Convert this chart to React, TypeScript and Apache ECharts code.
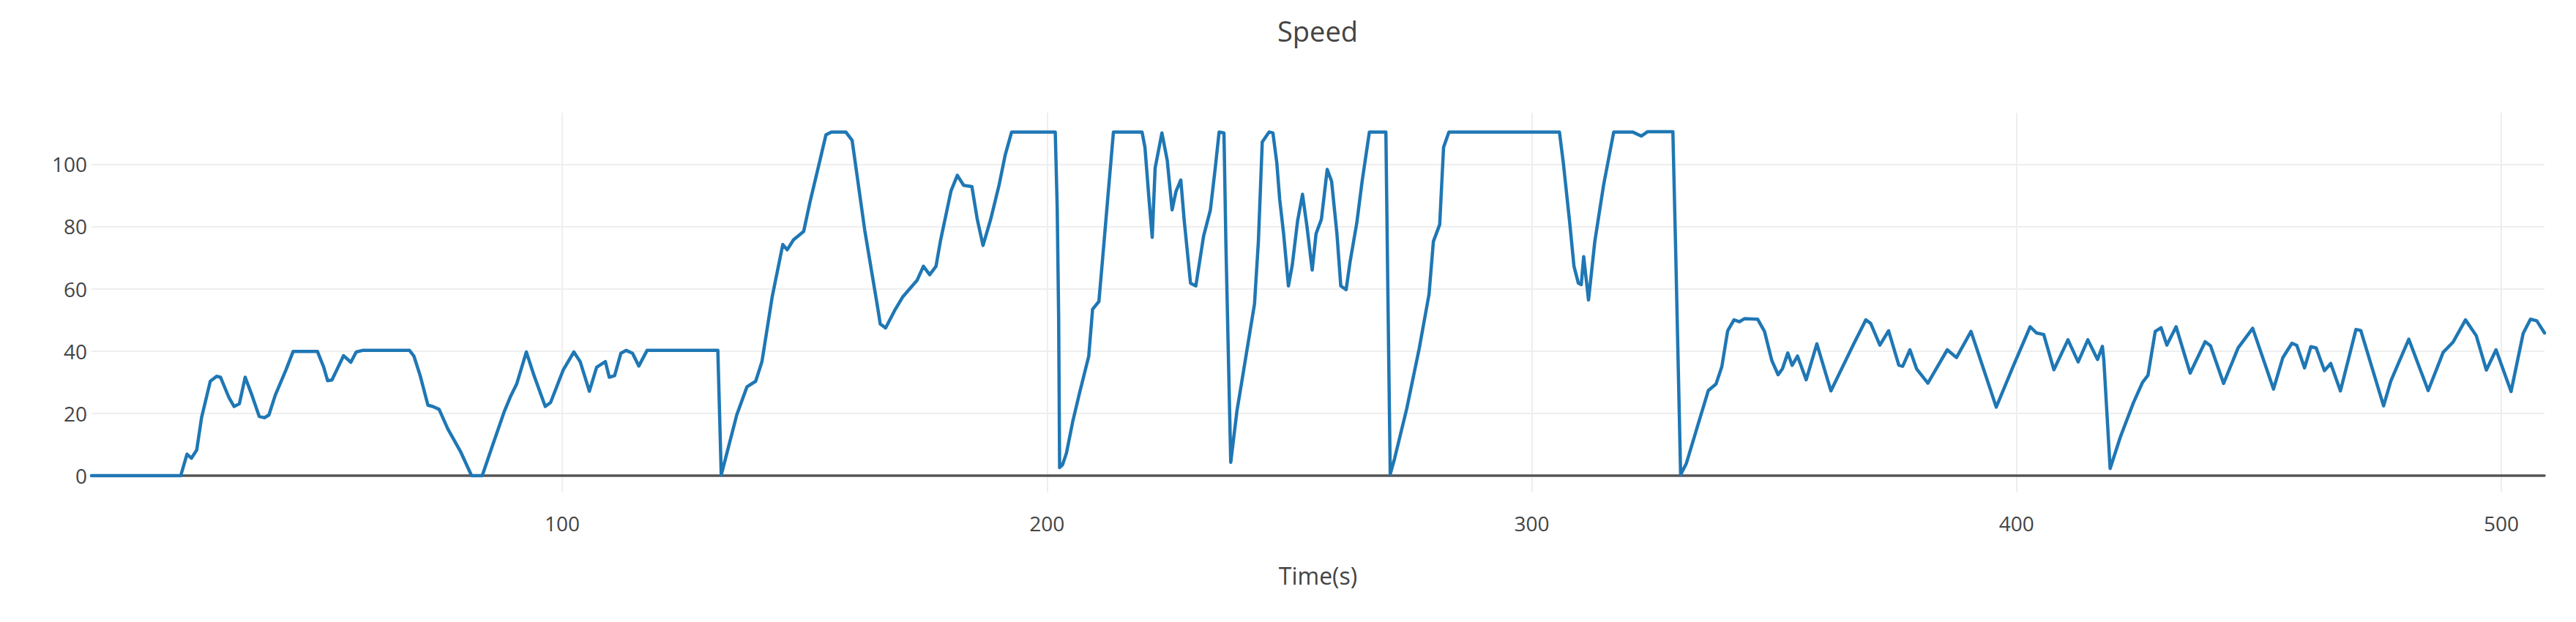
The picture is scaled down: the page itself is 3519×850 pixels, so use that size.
import React, { useEffect, useRef } from "react";
import * as echarts from "echarts";

const chartTitle = "Speed";
const xAxisTitle = "Time(s)";
const xTickValues = [100, 200, 300, 400, 500];
const yTickValues = [0, 20, 40, 60, 80, 100];

const time = [
  2.9, 21.3, 22.6, 23.5, 24.6, 25.6, 27.4, 28.7, 29.5, 31.3, 32.3, 33.4, 34.6, 36.0, 37.5, 38.6, 39.5, 40.8, 43.0, 44.5,
  49.5, 50.8, 51.6, 52.5, 54.9, 56.4, 57.5, 58.8, 68.5, 69.4, 70.7, 72.3, 73.3, 74.6, 76.4, 79.0, 81.3, 83.5, 85.4, 88.0,
  89.3, 90.6, 92.6, 94.1, 96.5, 97.6, 100.2, 102.4, 103.7, 105.6, 107.1, 108.9, 109.7, 110.8, 112.1, 113.2, 114.5, 115.8, 117.5, 132.1,
  132.8, 136.0, 138.1, 139.9, 141.2, 143.3, 145.5, 146.4, 147.7, 149.8, 151.1, 152.9, 154.4, 155.5, 158.5, 159.8, 162.4, 165.0, 165.6, 166.7,
  168.5, 170.2, 173.2, 174.5, 175.8, 177.1, 178.0, 180.2, 181.5, 182.8, 184.5, 185.6, 186.8, 188.4, 190.1, 191.4, 192.7, 201.7, 202.1, 202.4,
  202.6, 203.2, 204.0, 205.3, 206.7, 208.6, 209.4, 210.7, 211.5, 212.6, 213.7, 219.6, 220.2, 221.0, 221.7, 222.3, 223.7, 224.8, 225.8, 226.6,
  227.6, 228.3, 229.6, 230.7, 232.3, 233.7, 234.7, 235.5, 236.5, 236.9, 237.9, 239.2, 240.0, 241.0, 242.8, 243.6, 244.4, 245.8, 246.6, 247.4,
  248.0, 248.8, 249.8, 250.6, 251.7, 252.7, 253.6, 254.7, 255.5, 256.6, 257.8, 258.7, 259.8, 260.6, 261.7, 262.5, 263.9, 265.0, 266.5, 269.9,
  270.3, 270.8, 271.7, 274.2, 276.8, 278.8, 279.7, 281.0, 281.8, 282.9, 305.7, 306.5, 307.8, 308.7, 309.6, 310.2, 310.7, 311.7, 313.0, 314.8,
  316.9, 320.8, 322.6, 323.9, 329.1, 329.7, 330.7, 331.9, 334.4, 336.4, 338.0, 339.2, 340.4, 341.7, 342.8, 343.9, 346.6, 348.0, 349.5, 350.8,
  351.7, 352.8, 353.7, 354.8, 356.6, 358.8, 361.7, 366.4, 368.9, 369.9, 371.8, 373.6, 375.7, 376.5, 378.0, 379.4, 381.7, 385.7, 387.6, 390.6,
  395.8, 399.4, 402.8, 404.1, 405.6, 407.7, 410.6, 412.7, 414.7, 416.7, 417.7, 418.0, 419.3, 421.4, 424.1, 426.0, 427.1, 428.6, 429.8, 431.0,
  432.9, 435.8, 438.9, 440.0, 442.7, 445.7, 448.7, 453.0, 454.9, 456.8, 457.8, 459.4, 460.7, 461.8, 463.5, 464.8, 466.8, 470.0, 471.0, 475.7,
  477.2, 480.9, 484.9, 488.0, 490.0, 492.6, 494.8, 496.9, 498.9, 502.0, 504.5, 506.0, 507.3, 508.9,
];

const speed = [
  0, 0, 6.9, 5.6, 8.2, 18.6, 30.3, 31.9, 31.6, 24.9, 22.2, 23.1, 31.6, 25.8, 19.0, 18.6, 19.5, 25.8, 33.9, 39.9,
  39.9, 34.8, 30.5, 30.7, 38.5, 36.4, 39.7, 40.2, 40.2, 38.4, 32.1, 22.6, 22.2, 21.3, 15.0, 7.8, 0, 0, 8.7, 20.4,
  25.3, 29.4, 39.7, 32.5, 22.2, 23.5, 33.9, 39.7, 36.6, 27.1, 34.8, 36.6, 31.6, 32.1, 39.3, 40.2, 39.3, 35.2, 40.2, 40.2,
  0.2, 19.5, 28.5, 30.3, 36.6, 57.3, 74.2, 72.5, 75.7, 78.4, 87.8, 99.5, 109.4, 110.3, 110.3, 107.6, 78.8, 54.6, 48.7, 47.4,
  52.8, 57.3, 62.7, 67.2, 64.5, 67.2, 75.2, 91.4, 96.4, 93.2, 92.8, 82.4, 73.9, 82.4, 93.2, 103.1, 110.3, 110.3, 86.1, 50.9,
  2.6, 3.5, 7.2, 17.3, 26.5, 38.3, 53.4, 55.9, 70.2, 90.3, 110.3, 110.3, 105.4, 89.5, 76.5, 98.7, 110.0, 101.2, 85.3, 91.2,
  94.9, 81.9, 61.8, 60.9, 76.9, 85.3, 98.7, 110.3, 110.0, 74.4, 4.3, 21.0, 28.5, 38.0, 55.1, 75.2, 107.1, 110.3, 110.0, 100.4,
  88.6, 77.7, 60.9, 67.7, 81.9, 90.3, 80.2, 66.0, 77.7, 82.3, 98.3, 94.5, 77.7, 60.9, 59.7, 68.5, 81.1, 94.5, 110.3, 110.3,
  60.1, 0.5, 5.5, 21.5, 41.0, 58.2, 75.2, 80.6, 105.4, 110.3, 110.3, 100.4, 81.5, 67.2, 61.8, 61.3, 70.3, 56.4, 75.2, 93.2,
  110.3, 110.3, 109.0, 110.4, 110.4, 70.7, 0.3, 4.0, 17.0, 27.3, 29.4, 35.0, 46.5, 50.0, 49.4, 50.4, 50.2, 46.3, 37.0, 32.4,
  34.3, 39.4, 35.4, 38.4, 30.8, 42.3, 27.2, 42.3, 50.0, 48.9, 41.9, 46.5, 35.5, 35.1, 40.4, 34.2, 29.7, 40.4, 37.9, 46.3,
  22.0, 35.5, 47.8, 45.8, 45.3, 34.0, 43.6, 36.5, 43.6, 37.3, 41.5, 37.0, 2.3, 12.4, 23.4, 30.0, 32.2, 46.3, 47.5, 41.9,
  47.8, 32.9, 43.0, 41.7, 29.6, 41.0, 47.3, 27.8, 37.8, 42.5, 41.8, 34.6, 41.4, 41.0, 33.7, 36.0, 27.2, 46.9, 46.6, 22.4,
  30.4, 43.8, 27.3, 39.6, 42.8, 50.0, 45.0, 33.9, 40.4, 27.0, 45.7, 50.2, 49.7, 45.8,
];

const FONT = "'Open Sans', 'Noto Sans', sans-serif";

export default function App() {
  const ref = useRef<HTMLDivElement>(null);

  useEffect(() => {
    if (!ref.current) return;
    const chart = echarts.init(ref.current, null, { renderer: "svg" });
    chart.setOption({
      animation: false,
      backgroundColor: "#ffffff",
      textStyle: { fontFamily: FONT },
      grid: { left: 125, right: 43, top: 154, bottom: 177, containLabel: false },
      graphic: [
        {
          type: "text",
          x: 1800,
          y: 42,
          style: {
            text: chartTitle,
            fill: "#444444",
            fontSize: 38,
            fontFamily: FONT,
            textAlign: "center",
            textVerticalAlign: "middle",
          },
        },
      ],
      xAxis: {
        type: "value",
        min: "dataMin",
        max: "dataMax",
        name: xAxisTitle,
        nameLocation: "middle",
        nameGap: 97,
        nameTextStyle: { fontSize: 32, color: "#444444", fontFamily: FONT },
        axisLine: { show: true, onZero: true, lineStyle: { color: "#555555", width: 3.5 } },
        axisTick: { show: false, customValues: xTickValues },
        axisLabel: { customValues: xTickValues, fontSize: 28, color: "#444444", margin: 28, fontFamily: FONT },
        splitLine: { show: true, lineStyle: { color: "#eeeeee", width: 2 } },
      },
      yAxis: {
        type: "value",
        min: -5.4,
        max: 116.5,
        axisLine: { show: false },
        axisTick: { show: false, customValues: yTickValues },
        axisLabel: { customValues: yTickValues, fontSize: 28, color: "#444444", margin: 6, fontFamily: FONT },
        splitLine: { show: true, lineStyle: { color: "#eeeeee", width: 2 } },
      },
      series: [
        {
          type: "line",
          data: time.map((t, i) => [t, speed[i]]),
          showSymbol: false,
          symbol: "none",
          clip: true,
          lineStyle: { color: "#1f77b4", width: 4.5, join: "round", cap: "round" },
        },
      ],
    });
    return () => chart.dispose();
  }, []);

  return <div ref={ref} style={{ position: "absolute", left: 0, top: 0, width: 3519, height: 850 }} />;
}
